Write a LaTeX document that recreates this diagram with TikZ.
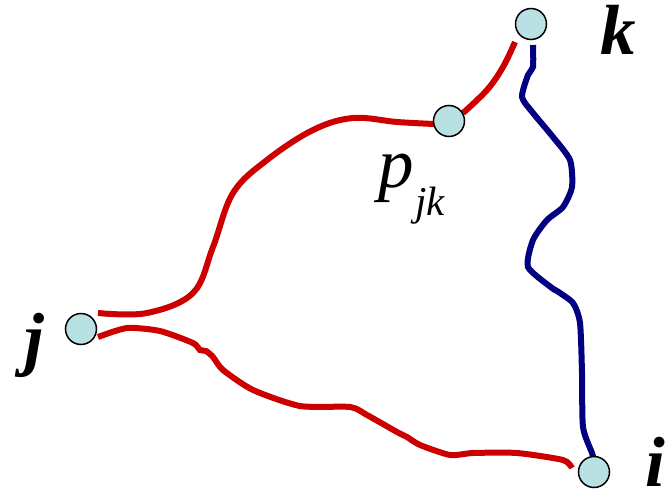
\documentclass[tikz,border=0pt]{standalone}
\usepackage{fontspec}
\setmainfont{Liberation Serif}
\newfontfamily\labelfont{Liberation Serif}
\definecolor{nodefill}{RGB}{185,224,227}
\definecolor{pathred}{RGB}{204,0,0}
\definecolor{pathblue}{RGB}{0,0,128}
\begin{document}
\begin{tikzpicture}[x=1pt,y=-1pt,
  vertex/.style={circle,draw=black,line width=1.5pt,fill=nodefill,minimum size=31pt,inner sep=0pt},
  redpath/.style={draw=pathred,line width=6pt},
  bluepath/.style={draw=pathblue,line width=6pt},
  biglabel/.style={anchor=base west,inner sep=0pt,font=\labelfont\fontsize{71}{71}\selectfont\bfseries\itshape},
  plabel/.style={anchor=base west,inner sep=0pt,font=\labelfont\fontsize{71}{71}\selectfont\itshape},
  sublabel/.style={anchor=base west,inner sep=0pt,font=\labelfont\fontsize{41}{41}\selectfont\itshape}]
\useasboundingbox (0,0) rectangle (668,492);
% red path j -> p
\draw[redpath] plot[smooth,tension=0.6] coordinates {(98,313) (147,313) (193,293) (213,247) (233,193) (267,160) (313,130) (353,118) (397,122) (434,124)};
% red path p -> k
\draw[redpath] plot[smooth,tension=0.6] coordinates {(463,113) (487,90) (503,67) (515,42)};
% red path j -> i
\draw[redpath] plot[smooth,tension=0.4] coordinates {(98,337) (127,328) (160,331) (193,343) (200,350) (206,351) (213,357) (223,370) (253,390) (300,406) (350,407) (367,415) (397,432) (407,437) (420,445) (450,455) (473,453) (517,453) (563,460) (572,468)};
% blue path k -> i
\draw[bluepath] plot[smooth,tension=0.4] coordinates {(533,45) (533,67) (528,75) (522,97) (533,113) (553,137) (570,160) (572,187) (563,207) (547,220) (533,240) (528,267) (552,288) (557,291) (573,303) (580,323) (582,373) (583,427) (592,453) (594,460)};
% vertices
\node[vertex] (k) at (531,24) {};
\node[vertex] (p) at (449,121) {};
\node[vertex] (j) at (81,329) {};
\node[vertex] (i) at (594,472) {};
% labels
\node[biglabel] (klab) at (600,55) {k};
\node[biglabel] (jlab) at (24,362) {j};
\node[biglabel] (ilab) at (645,486) {i};
\node[plabel] (plab) at (378,187) {p};
\node[sublabel] (sublab) at (415,215) {jk};
\end{tikzpicture}
\end{document}
